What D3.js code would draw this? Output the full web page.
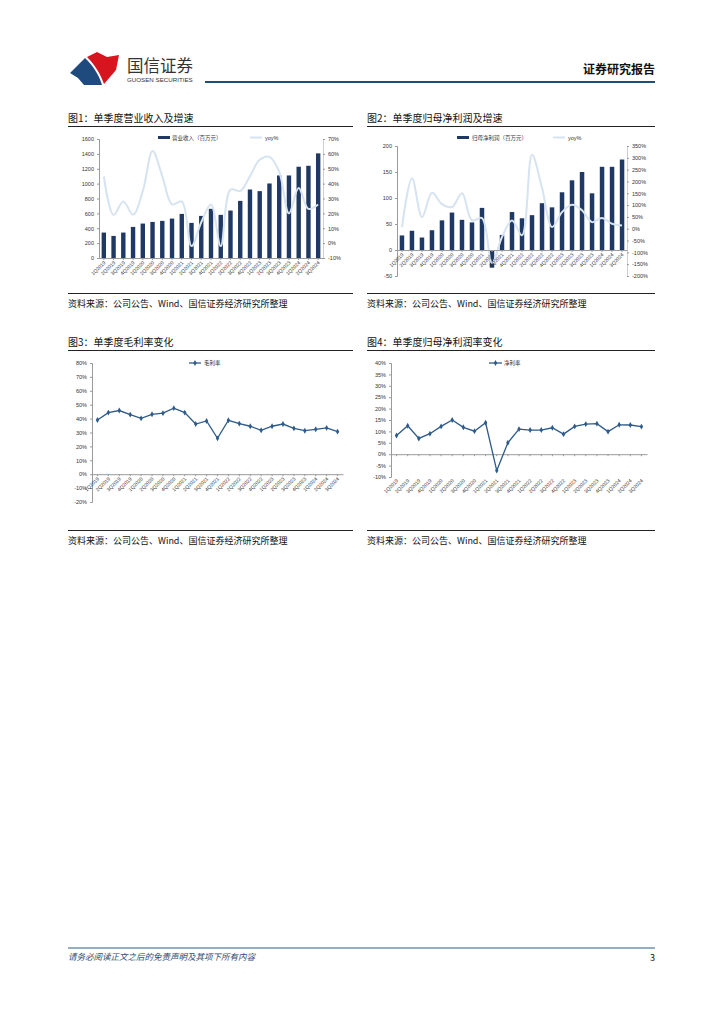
<!DOCTYPE html>
<html><head><meta charset="utf-8">
<script src="https://cdn.jsdelivr.net/npm/d3@7"></script>
<style>
body{margin:0;background:#fff;}
svg{display:block;font-family:"Noto Sans CJK SC","Noto Sans",sans-serif;}
</style></head>
<body>
<svg id="c" width="724" height="1024"></svg>
<script>
const quarters = ["1Q2019","2Q2019","3Q2019","4Q2019","1Q2020","2Q2020","3Q2020","4Q2020","1Q2021","2Q2021","3Q2021","4Q2021","1Q2022","2Q2022","3Q2022","4Q2022","1Q2023","2Q2023","3Q2023","4Q2023","1Q2024","2Q2024","3Q2024"];
const revenue = [342,297,342,418,463,485,499,530,593,472,566,661,580,638,768,921,899,1002,1110,1110,1227,1240,1407];
const revenueYoy = [44.8,19,28,19,35,62,45,26,28,-2,14,26,-2,36,35,45,56,58,48,20,37,23,26];
const netProfit = [28,37,24,38,57,72,58,53,81,-34,29,73,61,67,90,82,111,134,150,109,160,160,174];
const netProfitYoy = [7,214,49,152,104,92,150,35,45,-145,-35,35,-28,313,173,7,70,101,78,28,45,21,14];
const grossMargin = [39.0,44.3,45.8,42.9,40.2,43.1,43.9,47.5,44.3,36.1,38.3,25.8,38.8,36.4,34.5,31.6,34.5,36.1,33.0,31.3,32.3,33.3,30.6];
const netMargin = [8.2,12.5,6.9,9.0,12.2,15.0,11.8,10.1,13.8,-7.2,5.0,11.0,10.6,10.6,11.6,8.8,12.2,13.2,13.4,9.9,12.9,12.8,12.1];
const ticks1L = [0,200,400,600,800,1000,1200,1400,1600];
const ticks1R = [-10,0,10,20,30,40,50,60,70];
const ticks2L = [-50,0,50,100,150,200];
const ticks2R = [-200,-150,-100,-50,0,50,100,150,200,250,300,350];
const ticks3 = [-20,-10,0,10,20,30,40,50,60,70,80];
const ticks4 = [-10,-5,0,5,10,15,20,25,30,35,40];

const svg = d3.select("#c");
const NAVY = "#1f3864", LBLUE = "#d6e3f1", LINE = "#2e5b8a", AX = "#9a9a9a", TXT = "#333";
const SRC = "资料来源：公司公告、Wind、国信证券经济研究所整理";

// Header
svg.append("path").attr("d","M87,57 L97,52 L107,57 L119,55 L116,70 L104,84 C100,73 95,65 87,57 Z").attr("fill","#d7151f");
svg.append("path").attr("d","M70,73 L85,58 C94,67 99,75 102,85 L84,85 L78,78 Z").attr("fill","#1e4a7e");
svg.append("text").attr("x",127).attr("y",72).attr("font-size",16.5).attr("fill","#333").text("国信证券");
svg.append("text").attr("x",127).attr("y",81.5).attr("font-size",6.2).attr("fill","#333").attr("font-family","Liberation Sans").text("GUOSEN SECURITIES");
svg.append("text").attr("x",655).attr("y",74).attr("text-anchor","end").attr("font-size",12).attr("font-weight","bold").attr("fill","#111").text("证券研究报告");
svg.append("rect").attr("x",205).attr("y",81).attr("width",450).attr("height",2).attr("fill","#1f4e79");

// Footer
svg.append("rect").attr("x",68).attr("y",947.5).attr("width",587).attr("height",1).attr("fill","#2e5f8a");
svg.append("text").attr("x",68).attr("y",960).attr("font-size",8.5).attr("font-style","italic").attr("fill","#1f4e79").text("请务必阅读正文之后的免责声明及其项下所有内容");
svg.append("text").attr("x",655).attr("y",961).attr("text-anchor","end").attr("font-size",9).attr("fill","#111").text("3");

function panel(x0, x1, titleY, botY, title){
  svg.append("text").attr("x",x0).attr("y",titleY).attr("font-size",10).attr("fill","#111").text(title);
  svg.append("rect").attr("x",x0).attr("y",titleY+4).attr("width",x1-x0).attr("height",1).attr("fill","#222");
  svg.append("rect").attr("x",x0).attr("y",botY).attr("width",x1-x0).attr("height",1).attr("fill","#222");
  svg.append("text").attr("x",x0).attr("y",botY+14).attr("font-size",9).attr("fill","#111").text(SRC);
}

function yAxisLeft(g, scale, ticks, x, fmt){
  const ax = g.append("g").attr("transform",`translate(${x},0)`)
    .call(d3.axisLeft(scale).tickValues(ticks).tickSize(2).tickFormat(fmt));
  ax.select(".domain").attr("stroke",AX);
  ax.selectAll(".tick line").attr("stroke",AX);
  ax.selectAll("text").attr("font-size",5.5).attr("fill",TXT).attr("font-family","Liberation Sans");
}
function yAxisRight(g, scale, ticks, x, fmt){
  const ax = g.append("g").attr("transform",`translate(${x},0)`)
    .call(d3.axisRight(scale).tickValues(ticks).tickSize(2).tickFormat(fmt));
  ax.select(".domain").attr("stroke","#cfcfcf");
  ax.selectAll(".tick line").attr("stroke",AX);
  ax.selectAll("text").attr("font-size",5.5).attr("fill",TXT).attr("font-family","Liberation Sans");
}
function xAxis(g, xs, yAxisPos, labelY){
  const ax = g.append("g").attr("transform",`translate(0,${yAxisPos})`)
    .call(d3.axisBottom(xs).tickSize(2).tickSizeOuter(0).tickFormat(""));
  ax.select(".domain").attr("stroke",AX);
  ax.selectAll(".tick line").attr("stroke",AX);
  g.append("g").selectAll("text").data(quarters).join("text")
    .attr("transform",d=>`translate(${xs(d)+xs.bandwidth()/2+2},${labelY}) rotate(-45)`)
    .attr("text-anchor","end").attr("font-size",5).attr("fill",TXT).attr("font-family","Liberation Sans")
    .text(d=>d);
}
const pct = d=>d+"%";

// Chart 1
panel(68,353,122,293,"图1：单季度营业收入及增速");
{
  const g = svg.append("g");
  const x = d3.scaleBand().domain(quarters).range([99,323]).paddingInner(0.55).paddingOuter(0.27);
  const yL = d3.scaleLinear().domain([0,1600]).range([258,139]);
  const yR = d3.scaleLinear().domain([-10,70]).range([258,139]);
  yAxisLeft(g,yL,ticks1L,99,d=>d);
  yAxisRight(g,yR,ticks1R,323,pct);
  g.selectAll("rect.b").data(revenue).join("rect").attr("class","b")
    .attr("x",(d,i)=>x(quarters[i])).attr("width",x.bandwidth())
    .attr("y",d=>yL(d)).attr("height",d=>yL(0)-yL(d)).attr("fill",NAVY);
  const xc = d3.scaleBand().domain(quarters).range([99,323]);
  g.append("path").datum(revenueYoy)
    .attr("d",d3.line().x((d,i)=>xc(quarters[i])+xc.bandwidth()/2).y(d=>yR(d)).curve(d3.curveCatmullRom.alpha(0.5)))
    .attr("fill","none").attr("stroke",LBLUE).attr("stroke-width",2);
  xAxis(g,xc,258,263);
  g.append("rect").attr("x",158).attr("y",136).attr("width",12).attr("height",3).attr("fill",NAVY);
  g.append("text").attr("x",172).attr("y",139.5).attr("font-size",5.5).attr("fill",TXT).text("营业收入（百万元）");
  g.append("line").attr("x1",250).attr("x2",262).attr("y1",137.5).attr("y2",137.5).attr("stroke",LBLUE).attr("stroke-width",2);
  g.append("text").attr("x",265).attr("y",139.5).attr("font-size",5.5).attr("fill",TXT).attr("font-family","Liberation Sans").text("yoy%");
}

// Chart 2
panel(367,655,122,293,"图2：单季度归母净利润及增速");
{
  const g = svg.append("g");
  const xc = d3.scaleBand().domain(quarters).range([397,627]);
  const x = d3.scaleBand().domain(quarters).range([397,627]).paddingInner(0.55).paddingOuter(0.27);
  const yL = d3.scaleLinear().domain([-50,200]).range([276,146]);
  const yR = d3.scaleLinear().domain([-200,350]).range([276,146]);
  yAxisLeft(g,yL,ticks2L,397,d=>d);
  yAxisRight(g,yR,ticks2R,627,pct);
  g.selectAll("rect.b").data(netProfit).join("rect").attr("class","b")
    .attr("x",(d,i)=>x(quarters[i])).attr("width",x.bandwidth())
    .attr("y",d=>yL(Math.max(0,d))).attr("height",d=>Math.abs(yL(0)-yL(d))).attr("fill",NAVY);
  g.append("path").datum(netProfitYoy)
    .attr("d",d3.line().x((d,i)=>xc(quarters[i])+xc.bandwidth()/2).y(d=>yR(d)).curve(d3.curveCatmullRom.alpha(0.5)))
    .attr("fill","none").attr("stroke",LBLUE).attr("stroke-width",2);
  xAxis(g,xc,yL(0),yL(0)+5);
  g.append("rect").attr("x",457).attr("y",136).attr("width",12).attr("height",3).attr("fill",NAVY);
  g.append("text").attr("x",472).attr("y",139.5).attr("font-size",5.5).attr("fill",TXT).text("归母净利润（百万元）");
  g.append("line").attr("x1",553).attr("x2",565).attr("y1",137.5).attr("y2",137.5).attr("stroke",LBLUE).attr("stroke-width",2);
  g.append("text").attr("x",568).attr("y",139.5).attr("font-size",5.5).attr("fill",TXT).attr("font-family","Liberation Sans").text("yoy%");
}

function diamond(g, pts, color){
  g.selectAll("path.m").data(pts).join("path").attr("class","m")
    .attr("d",d3.symbol(d3.symbolDiamond,10)).attr("transform",d=>`translate(${d[0]},${d[1]})`).attr("fill",color);
}

// Chart 3
panel(68,353,346,530,"图3：单季度毛利率变化");
{
  const g = svg.append("g");
  const xc = d3.scaleBand().domain(quarters).range([92,343]);
  const y = d3.scaleLinear().domain([-20,80]).range([502,363]);
  yAxisLeft(g,y,ticks3,92,pct);
  xAxis(g,xc,y(0),y(0)+5);
  const pts = grossMargin.map((d,i)=>[xc(quarters[i])+xc.bandwidth()/2, y(d)]);
  g.append("path").datum(pts).attr("d",d3.line()).attr("fill","none").attr("stroke",LINE).attr("stroke-width",1.3);
  diamond(g,pts,LINE);
  g.append("line").attr("x1",189).attr("x2",201).attr("y1",363).attr("y2",363).attr("stroke",LINE).attr("stroke-width",1.3);
  diamond(g.append("g"),[[195,363]],LINE);
  g.append("text").attr("x",204).attr("y",365).attr("font-size",5.5).attr("fill",TXT).text("毛利率");
}

// Chart 4
panel(367,655,346,530,"图4：单季度归母净利润率变化");
{
  const g = svg.append("g");
  const xc = d3.scaleBand().domain(quarters).range([391,647]);
  const y = d3.scaleLinear().domain([-10,40]).range([477,363]);
  yAxisLeft(g,y,ticks4,391,pct);
  xAxis(g,xc,y(0),y(-10)+4);
  const pts = netMargin.map((d,i)=>[xc(quarters[i])+xc.bandwidth()/2, y(d)]);
  g.append("path").datum(pts).attr("d",d3.line()).attr("fill","none").attr("stroke",LINE).attr("stroke-width",1.3);
  diamond(g,pts,LINE);
  g.append("line").attr("x1",489).attr("x2",502).attr("y1",363).attr("y2",363).attr("stroke",LINE).attr("stroke-width",1.3);
  diamond(g.append("g"),[[495.5,363]],LINE);
  g.append("text").attr("x",504).attr("y",365).attr("font-size",5.5).attr("fill",TXT).text("净利率");
}
</script>
</body></html>
